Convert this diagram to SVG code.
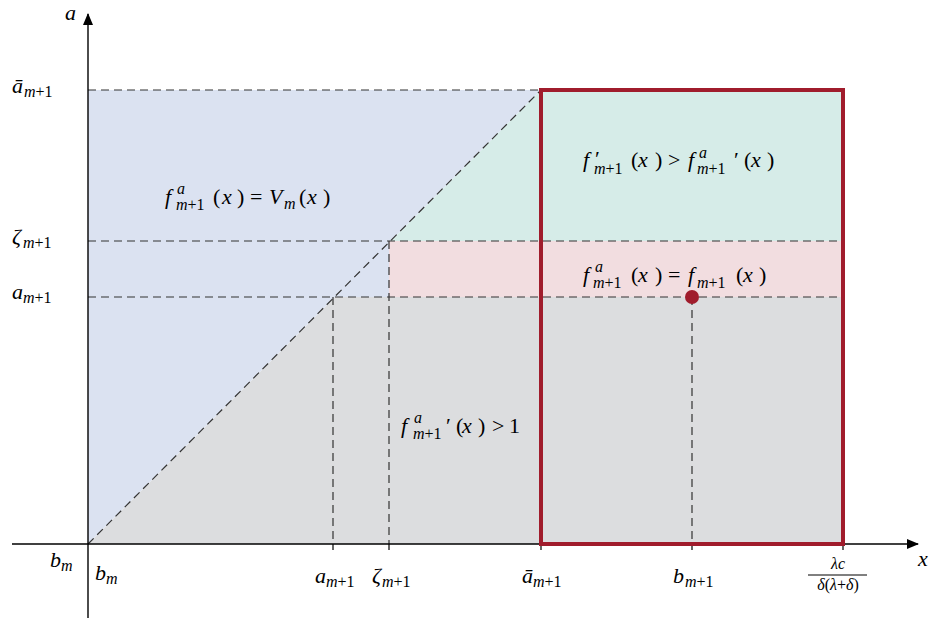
<svg xmlns="http://www.w3.org/2000/svg" width="930" height="620" viewBox="0 0 930 620">
<defs>
<style>
.t{font-family:"Liberation Serif","DejaVu Serif",serif;font-size:22px;fill:#000}
.i{font-style:italic}
.s{font-size:16px}
.d{stroke:#333;stroke-width:1.2;stroke-dasharray:8 5;fill:none}
.ax{stroke:#000;stroke-width:1.4;fill:none}
.tk{stroke:#000;stroke-width:1.2}
</style>
<marker id="arr" viewBox="0 0 12 10" refX="11" refY="5" markerWidth="12" markerHeight="10" markerUnits="userSpaceOnUse" orient="auto">
<path d="M0,0 L12,5 L0,10 Z" fill="#000"/>
</marker>
</defs>
<rect width="930" height="620" fill="#fff"/>
<g id="regions">
<polygon id="blue" points="88,90 541,90 391,241 389,241 389,297 335,297 88,544" fill="#dbe2f1"/>
<polygon id="green" points="541,90 843,90 843,241 391,241" fill="#d6ece8"/>
<rect id="pink" x="389" y="241" width="454" height="56" fill="#f2dde0"/>
<polygon id="gray" points="335,297 843,297 843,544 88,544" fill="#dcdddf"/>
</g>
<g id="connectors">
<line class="d" x1="88" y1="90" x2="541" y2="90"/>
<line class="d" x1="88" y1="241" x2="843" y2="241"/>
<line class="d" x1="88" y1="297" x2="843" y2="297"/>
<line class="d" x1="88" y1="544" x2="541" y2="90"/>
<line class="d" x1="333" y1="297" x2="333" y2="544"/>
<line class="d" x1="389" y1="241" x2="389" y2="544"/>
<line class="d" x1="692" y1="297" x2="692" y2="544"/>
<line class="ax" x1="12" y1="544" x2="918" y2="544" marker-end="url(#arr)"/>
<line class="ax" x1="88" y1="618" x2="88" y2="14" marker-end="url(#arr)"/>
<line class="tk" x1="333" y1="544" x2="333" y2="550"/>
<line class="tk" x1="389" y1="544" x2="389" y2="550"/>
<line class="tk" x1="541" y1="544" x2="541" y2="550"/>
<line class="tk" x1="692" y1="544" x2="692" y2="550"/>
<line class="tk" x1="843" y1="544" x2="843" y2="550"/>
</g>
<g id="feasible-box">
<rect x="541" y="90" width="302" height="454" fill="none" stroke="#a01c2c" stroke-width="4"/>
<circle cx="692" cy="297" r="7" fill="#a01c2c"/>
</g>
<g id="label-region-blue">
<text class="t"><tspan class="i" x="165" y="204">f</tspan><tspan class="i s" x="177" y="194">a</tspan><tspan class="i s" x="176" y="210">m</tspan><tspan class="s">+1</tspan><tspan x="213" y="204">(</tspan><tspan class="i" x="222">x</tspan><tspan x="237">)</tspan><tspan x="250">=</tspan><tspan class="i" x="269">V</tspan><tspan class="i s" x="284" y="209">m</tspan><tspan x="299" y="204">(</tspan><tspan class="i" x="307">x</tspan><tspan x="323">)</tspan></text>
</g>
<g id="label-region-green">
<text class="t"><tspan class="i" x="583" y="167">f</tspan><tspan x="595" y="166">′</tspan><tspan class="i s" x="594" y="174">m</tspan><tspan class="s">+1</tspan><tspan x="631" y="167">(</tspan><tspan class="i" x="638">x</tspan><tspan x="655">)</tspan><tspan x="668">&gt;</tspan><tspan class="i" x="688">f</tspan><tspan class="i s" x="699" y="158">a</tspan><tspan class="i s" x="697" y="174">m</tspan><tspan class="s">+1</tspan><tspan x="734" y="167">′</tspan><tspan x="744">(</tspan><tspan class="i" x="751">x</tspan><tspan x="767">)</tspan></text>
</g>
<g id="label-region-pink">
<text class="t"><tspan class="i" x="583" y="282">f</tspan><tspan class="i s" x="595" y="272">a</tspan><tspan class="i s" x="593" y="288">m</tspan><tspan class="s">+1</tspan><tspan x="631" y="282">(</tspan><tspan class="i" x="638">x</tspan><tspan x="655">)</tspan><tspan x="668">=</tspan><tspan class="i" x="688">f</tspan><tspan class="i s" x="697" y="288">m</tspan><tspan class="s">+1</tspan><tspan x="736" y="282">(</tspan><tspan class="i" x="743">x</tspan><tspan x="759">)</tspan></text>
</g>
<g id="label-region-gray">
<text class="t"><tspan class="i" x="401" y="433">f</tspan><tspan class="i s" x="414" y="423">a</tspan><tspan class="i s" x="413" y="439">m</tspan><tspan class="s">+1</tspan><tspan x="446" y="433">′</tspan><tspan x="456">(</tspan><tspan class="i" x="462">x</tspan><tspan x="478">)</tspan><tspan x="492">&gt;</tspan><tspan x="509">1</tspan></text>
</g>
<g id="axis-labels">
<text class="t i" x="65" y="20">a</text>
<text class="t i" x="918" y="566">x</text>
<text class="t"><tspan class="i" x="12" y="93">ā</tspan><tspan class="i s" x="24" y="97">m</tspan><tspan class="s">+1</tspan></text>
<text class="t"><tspan class="i" x="12" y="244">ζ</tspan><tspan class="i s" x="23" y="248">m</tspan><tspan class="s">+1</tspan></text>
<text class="t"><tspan class="i" x="12" y="299">a</tspan><tspan class="i s" x="23" y="303">m</tspan><tspan class="s">+1</tspan></text>
<text class="t"><tspan class="i" x="50" y="567">b</tspan><tspan class="i s" x="61" y="571">m</tspan></text>
<text class="t"><tspan class="i" x="95" y="580">b</tspan><tspan class="i s" x="106" y="584">m</tspan></text>
<text class="t"><tspan class="i" x="315" y="583">a</tspan><tspan class="i s" x="326" y="587">m</tspan><tspan class="s">+1</tspan></text>
<text class="t"><tspan class="i" x="372" y="583">ζ</tspan><tspan class="i s" x="382" y="587">m</tspan><tspan class="s">+1</tspan></text>
<text class="t"><tspan class="i" x="522" y="583">ā</tspan><tspan class="i s" x="533" y="587">m</tspan><tspan class="s">+1</tspan></text>
<text class="t"><tspan class="i" x="673" y="583">b</tspan><tspan class="i s" x="685" y="587">m</tspan><tspan class="s">+1</tspan></text>
<text class="t s i" x="838" y="569" text-anchor="middle">λc</text>
<line x1="808" y1="575" x2="867" y2="575" stroke="#000" stroke-width="1"/>
<text class="t s" x="838" y="590" text-anchor="middle"><tspan class="i">δ</tspan>(<tspan class="i">λ</tspan>+<tspan class="i">δ</tspan>)</text>
</g>
</svg>
